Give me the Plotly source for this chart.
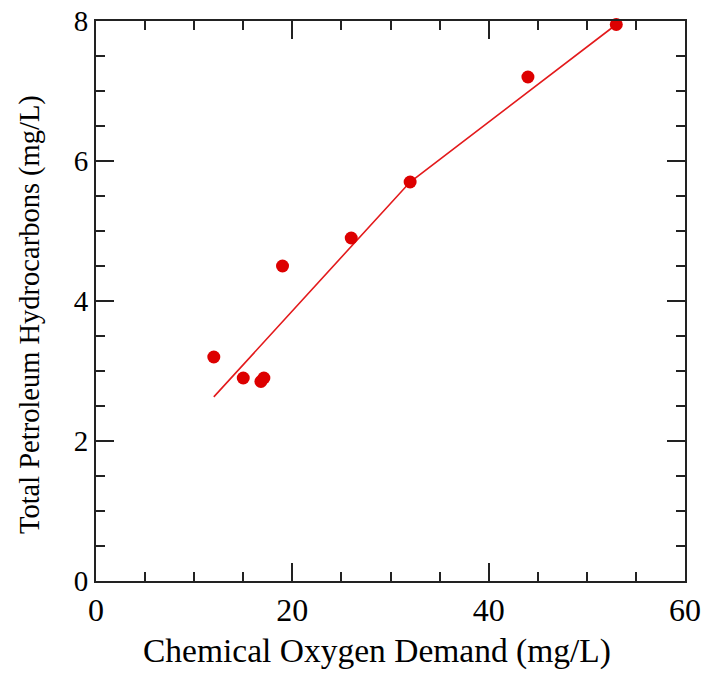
import plotly.graph_objects as go

# Measured samples
cod = [12, 15, 16.8, 17.1, 19, 26, 32, 44, 53]
tph = [3.2, 2.9, 2.85, 2.9, 4.5, 4.9, 5.7, 7.2, 7.95]

# Fitted trend (piecewise linear)
fit_cod = [12, 32, 53]
fit_tph = [2.63, 5.70, 7.95]

x_ticks = [0, 20, 40, 60]
y_ticks = [0, 2, 4, 6, 8]

x_title = "Chemical Oxygen Demand (mg/L)"
y_title = "Total Petroleum Hydrocarbons (mg/L)"

FONT = "Liberation Serif, Times New Roman, serif"
RED = "#dd0000"
AX = "#222222"

fig = go.Figure()
fig.add_trace(go.Scatter(
    x=fit_cod, y=fit_tph, mode="lines",
    line=dict(color="#e31a1c", width=1.6),
    hoverinfo="skip", cliponaxis=False,
))
fig.add_trace(go.Scatter(
    x=cod, y=tph, mode="markers",
    marker=dict(color=RED, size=13, line=dict(width=0)),
    cliponaxis=False,
))

axis_common = dict(
    showgrid=False, zeroline=False, automargin=False,
    showline=True, linecolor=AX, linewidth=2,
    mirror="allticks", ticks="inside", ticklen=18, tickwidth=2, tickcolor=AX,
)

fig.update_xaxes(
    range=[0, 60], tickvals=x_ticks, ticktext=[str(v) for v in x_ticks],
    tickfont=dict(family=FONT, size=32, color="black"),
    minor=dict(dtick=5, ticks="inside", ticklen=9, tickwidth=2, tickcolor=AX),
    **axis_common,
)
fig.update_yaxes(
    range=[0, 8], tickvals=y_ticks, ticktext=[str(v) for v in y_ticks],
    tickfont=dict(family=FONT, size=29, color="black"),
    minor=dict(dtick=0.5, ticks="inside", ticklen=9, tickwidth=2, tickcolor=AX),
    **axis_common,
)

# Axis titles placed as annotations
fig.add_annotation(
    text=x_title, xref="paper", yref="paper", x=0.477, y=-0.125,
    xanchor="center", yanchor="middle", showarrow=False,
    font=dict(family=FONT, size=33.5, color="black"),
)
fig.add_annotation(
    text=y_title, xref="paper", yref="paper", x=-0.112, y=0.475,
    xanchor="center", yanchor="middle", showarrow=False, textangle=-90,
    font=dict(family=FONT, size=28.5, color="black"),
)

fig.update_layout(
    width=704, height=673,
    margin=dict(l=96, r=19, t=21, b=92),
    paper_bgcolor="white", plot_bgcolor="white",
    showlegend=False,
)

fig.write_html("out.html")
